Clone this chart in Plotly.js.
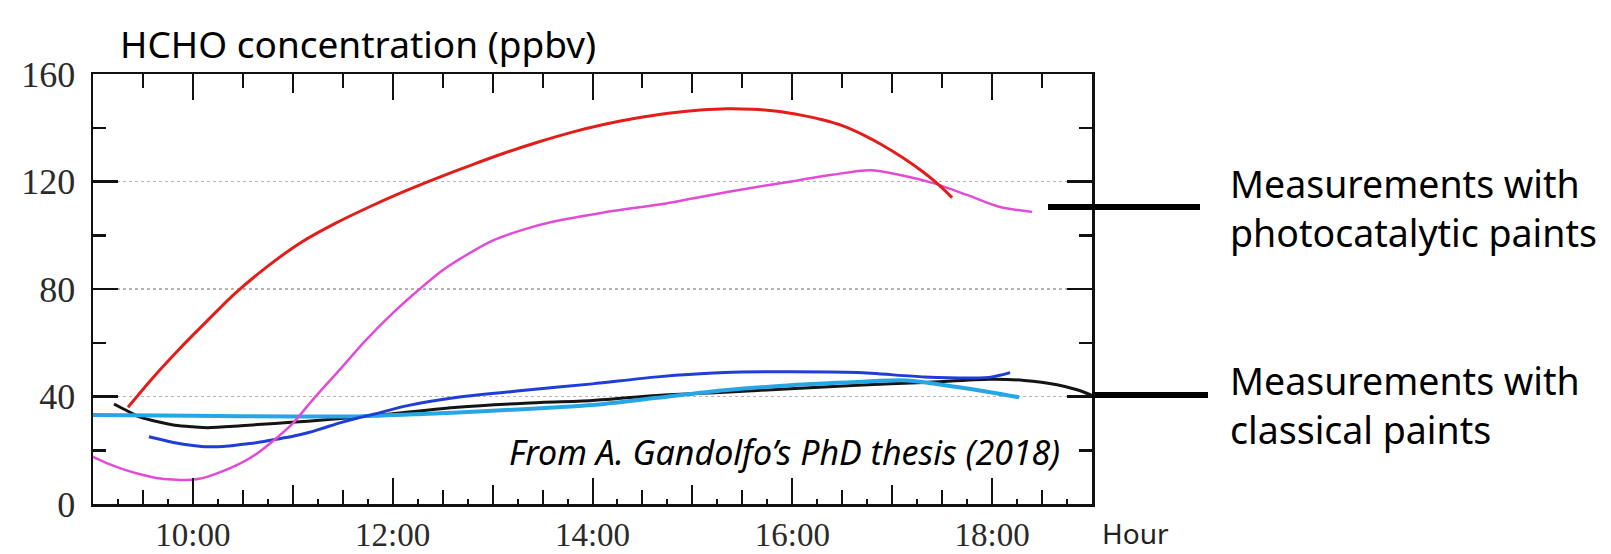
<!DOCTYPE html>
<html>
<head>
<meta charset="utf-8">
<script src="https://cdn.plot.ly/plotly-3.0.1.min.js"></script>
<style>
  html, body { margin: 0; padding: 0; background: #ffffff; }
  #chart { width: 1611px; height: 554px; }
</style>
</head>
<body>
<div id="chart"></div>
<script>
// ---- Data (hours of day, HCHO in ppbv) ----
const redHours = [9.35, 9.6, 9.86, 10.08, 10.42, 10.76, 11.09, 11.43, 11.77, 12.11, 12.47, 12.8, 13.12, 13.45, 13.78, 14.1, 14.43, 14.76, 15.08, 15.35, 15.6, 15.85, 16.1, 16.3, 16.5, 16.72, 16.9, 17.1, 17.3, 17.45, 17.6];
const redValues = [36, 47, 57.5, 65.8, 78.3, 88.8, 97.5, 104.5, 110.6, 116.2, 121.6, 126.3, 130.6, 134.6, 138.2, 141.1, 143.5, 145.4, 146.6, 147.1, 146.9, 146.1, 144.6, 143, 140.8, 137.2, 133.6, 129, 123.8, 119.3, 114];

const magentaHours = [9.0, 9.15, 9.32, 9.5, 9.65, 9.8, 9.92, 10.05, 10.15, 10.3, 10.48, 10.65, 10.82, 11.0, 11.15, 11.3, 11.48, 11.72, 12.0, 12.27, 12.5, 12.8, 13.0, 13.3, 13.6, 14.1, 14.76, 15.41, 16.07, 16.4, 16.78, 17.08, 17.41, 17.75, 18.08, 18.4];
const magentaValues = [17.5, 15, 12.7, 10.8, 9.6, 9.1, 8.9, 9.3, 10.2, 12.2, 15.2, 19, 24, 30, 36.6, 43, 50.4, 60.5, 71, 80, 87, 94, 98, 102, 105, 108.4, 112, 116.5, 120.5, 122.5, 124.2, 122.4, 119.4, 115, 110.5, 108.7];

const blackHours = [9.21, 9.35, 9.48, 9.65, 9.82, 10.0, 10.15, 10.48, 10.82, 11.15, 11.48, 11.98, 12.65, 13.32, 14.0, 14.65, 15.32, 15.98, 16.65, 17.32, 17.98, 18.32, 18.65, 18.85, 19.0];
const blackValues = [37.2, 34.5, 32.2, 30.6, 29.3, 28.7, 28.4, 29.1, 30, 30.8, 31.8, 33.5, 36, 37.5, 38.5, 40.4, 41.6, 42.9, 44.2, 45.2, 46.4, 46, 44.4, 42.5, 40.4];

const blueHours = [9.56, 9.7, 9.82, 10.0, 10.15, 10.3, 10.48, 10.65, 10.82, 11.0, 11.15, 11.3, 11.48, 11.65, 11.82, 12.15, 12.65, 13.32, 14.0, 14.65, 15.32, 15.98, 16.65, 17.32, 17.82, 18.0, 18.08, 18.18];
const blueValues = [25, 23.8, 22.8, 21.8, 21.3, 21.4, 22.1, 22.9, 24, 25.2, 26.5, 28.2, 30.3, 32, 33.5, 36.6, 39.7, 42.3, 44.7, 47.3, 48.9, 49.2, 48.9, 47.3, 46.9, 47.3, 47.9, 48.9];

const cyanHours = [9.0, 10.0, 11.0, 11.65, 12.3, 13.0, 13.65, 14.0, 14.65, 15.32, 15.98, 16.65, 17.15, 17.65, 17.98, 18.27];
const cyanValues = [33.1, 32.8, 32.6, 32.6, 33.5, 34.7, 36, 36.8, 39.5, 42.3, 44.2, 45.4, 46, 43.5, 41.6, 39.7];

const xTickHours = [10, 12, 14, 16, 18];
const xTickLabels = ["10:00", "12:00", "14:00", "16:00", "18:00"];
const yTickValues = [0, 40, 80, 120, 160];
const yTickLabels = ["0", "40", "80", "120", "160"];

// ---- Layout geometry helpers (pixel -> paper) ----
const W = 1611, H = 554;
const L = 93, R = 1092, T = 74, B = 504;
const px = v => (v - L) / (R - L);
const py = v => (B - v) / (B - T);

function line(x, y, color, width) {
  return { x: x, y: y, type: 'scatter', mode: 'lines',
    line: { color: color, width: width, shape: 'spline', smoothing: 0.8 },
    hoverinfo: 'skip', showlegend: false };
}

const traces = [
  line(blackHours, blackValues, '#141414', 3),
  line(cyanHours, cyanValues, '#27a6e6', 4),
  line(blueHours, blueValues, '#1f3ed6', 3),
  line(magentaHours, magentaValues, '#e24bd6', 2.5),
  line(redHours, redValues, '#e21d1a', 3),
  { x: [null], y: [null], xaxis: 'x2', type: 'scatter', mode: 'lines', showlegend: false, hoverinfo: 'skip' },
  { x: [null], y: [null], xaxis: 'x3', type: 'scatter', mode: 'lines', showlegend: false, hoverinfo: 'skip' }
];

const serif = 'Liberation Serif, Times New Roman, serif';
const sans = 'Noto Sans, Open Sans, sans-serif';

const layout = {
  width: W, height: H,
  margin: { l: L, r: W - R, t: T, b: H - B, pad: 0 },
  paper_bgcolor: '#ffffff', plot_bgcolor: '#ffffff',
  showlegend: false,
  xaxis: {
    range: [9, 19], tickmode: 'array', tickvals: xTickHours, ticktext: xTickLabels,
    ticks: 'inside', ticklen: 26, tickwidth: 2, tickcolor: '#111',
    showline: true, linewidth: 2.5, linecolor: '#111', mirror: 'ticks',
    showgrid: false, zeroline: false,
    tickfont: { family: serif, size: 33, color: '#2a2a2a' },
    minor: { tickmode: 'linear', tick0: 9, dtick: 0.5, ticks: 'inside', ticklen: 14, tickwidth: 2, tickcolor: '#111', showgrid: false }
  },
  xaxis2: {
    overlaying: 'x', range: [9, 19], tickmode: 'linear', tick0: 9, dtick: 1,
    ticks: 'inside', ticklen: 19, tickwidth: 2, tickcolor: '#111',
    showticklabels: false, showline: false, mirror: 'ticks', showgrid: false, zeroline: false
  },
  xaxis3: {
    overlaying: 'x', range: [9, 19], tickmode: 'linear', tick0: 9, dtick: 0.25,
    ticks: 'inside', ticklen: 5, tickwidth: 2, tickcolor: '#111',
    showticklabels: false, showline: false, showgrid: false, zeroline: false
  },
  yaxis: {
    range: [0, 160], tickmode: 'array', tickvals: yTickValues, ticktext: yTickLabels,
    ticks: 'inside', ticklen: 25, tickwidth: 2.5, tickcolor: '#111',
    showline: true, linewidth: 2.5, linecolor: '#111', mirror: 'ticks',
    showgrid: true, gridcolor: '#b4b4b4', gridwidth: 1.5, griddash: 'dot',
    zeroline: false, tickfont: { family: serif, size: 36, color: '#2a2a2a' }, ticklabelstandoff: 8,
    minor: { tickmode: 'linear', tick0: 0, dtick: 20, ticks: 'inside', ticklen: 13, tickwidth: 2.5, tickcolor: '#111', showgrid: false }
  },
  shapes: [
    { type: 'line', xref: 'paper', yref: 'paper', x0: px(1048), x1: px(1200), y0: py(207), y1: py(207), line: { color: '#000', width: 6 } },
    { type: 'line', xref: 'paper', yref: 'paper', x0: px(1092), x1: px(1208), y0: py(395), y1: py(395), line: { color: '#000', width: 6 } }
  ],
  annotations: [
    { text: 'HCHO concentration (ppbv)', xref: 'paper', yref: 'paper', x: px(118), y: py(43), xanchor: 'left', yanchor: 'middle', showarrow: false, font: { family: sans, size: 37, color: '#000' } },
    { text: 'Measurements with<br>photocatalytic paints', xref: 'paper', yref: 'paper', x: px(1228), y: py(208), xanchor: 'left', yanchor: 'middle', align: 'left', showarrow: false, font: { family: sans, size: 37.5, color: '#000' } },
    { text: 'Measurements with<br>classical paints', xref: 'paper', yref: 'paper', x: px(1228), y: py(405), xanchor: 'left', yanchor: 'middle', align: 'left', showarrow: false, font: { family: sans, size: 37.5, color: '#000' } },
    { text: '<i>From A. Gandolfo’s PhD thesis (2018)</i>', xref: 'paper', yref: 'paper', x: px(1062), y: py(452), xanchor: 'right', yanchor: 'middle', showarrow: false, font: { family: sans, size: 34, color: '#000' } },
    { text: 'Hour', xref: 'paper', yref: 'paper', x: px(1100), y: py(533), xanchor: 'left', yanchor: 'middle', showarrow: false, font: { family: sans, size: 28, color: '#222' } }
  ]
};

Plotly.newPlot('chart', traces, layout, { staticPlot: true, displayModeBar: false });
</script>
</body>
</html>
